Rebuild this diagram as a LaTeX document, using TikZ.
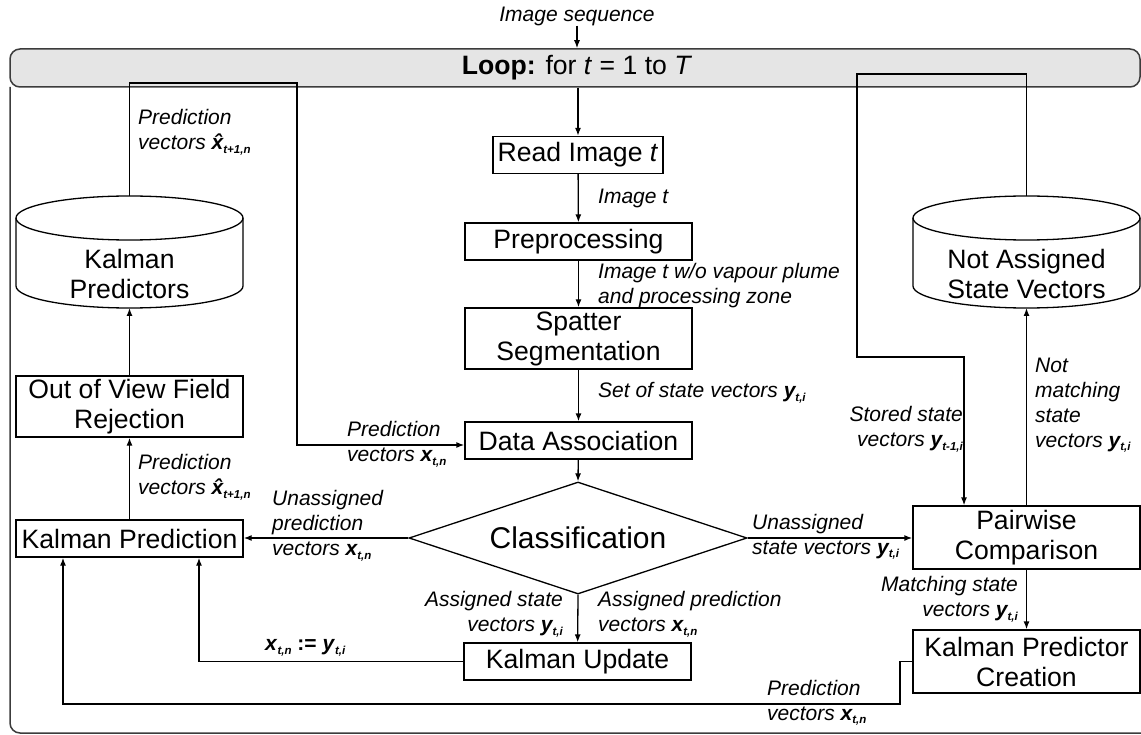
\documentclass[tikz,border=0pt]{standalone}
\usepackage{fontspec}
\setmainfont{Liberation Sans}
\usetikzlibrary{arrows.meta,calc,shapes.geometric}
\newcommand\mainfs{\fontsize{26.6}{30}\selectfont}
\newcommand\labfs{\fontsize{21}{25}\selectfont\itshape}
\newcommand\vx{\textbf{\textit{x}}}
\newcommand\vy{\textbf{\textit{y}}}
\newcommand\vxh{\textbf{\textit{\rlap{\kern2.5pt\char"02C6}x}}}
\newcommand\sub[1]{\raisebox{-3.5pt}{\fontsize{11.5}{12}\selectfont\bfseries\itshape #1}}
\definecolor{barfill}{RGB}{229,229,229}
\definecolor{bardraw}{RGB}{60,60,60}
\tikzset{
  ln/.style={line width=1.3pt},
  arr/.style={line width=1.3pt,-{Latex[length=8pt,width=6pt]}},
  box/.style={draw,line width=1.3pt,minimum width=227pt,inner sep=0pt,align=center,font=\mainfs},
  lab/.style={inner sep=0pt,font=\labfs},
}
\begin{document}
\begin{tikzpicture}[x=1pt,y=-1pt]
\useasboundingbox (0,0) rectangle (1141,735);
% loop bar and frame
\draw[bardraw,line width=1.5pt,rounded corners=10pt] (10,87) -- (10,733) -- (1150,733);
\node[draw=bardraw,fill=barfill,line width=1.5pt,rounded corners=10pt,minimum width=1130pt,minimum height=38pt,inner sep=0pt] (loop) at (575,68) {};
\node[inner sep=0pt,font=\fontsize{26.6}{30}\selectfont] (looptxt) at (577,68) {\textbf{Loop:} for \textit{t} = 1 to \textit{T}};
\node[lab] (seq) at (577,16) {Image sequence};
\draw[arr] (seq.south) -- (seq.south |- loop.north);

% centre column
\node[box,minimum width=170pt,minimum height=37pt] (read) at (578,155) {Read Image \textit{t}};
\node[box,minimum height=37pt] (prep) at (578.5,241.5) {Preprocessing};
\node[box,minimum height=61pt] (spat) at (578.5,338.5) {Spatter\\Segmentation};
\node[box,minimum height=37pt] (data) at (578.5,440.5) {Data Association};
\node[diamond,aspect=3,draw,line width=1.3pt,minimum width=338pt,minimum height=112pt,inner sep=0pt,font=\fontsize{30}{34}\selectfont] (cls) at (578,538) {Classification};
\node[box,minimum height=37pt] (kupd) at (577.5,661.5) {Kalman Update};

% left column
\node[box,minimum height=37pt] (kpred) at (129.5,538.5) {Kalman Prediction};
\node[box,minimum height=61pt] (ovf) at (129.5,406.5) {Out of View Field\\Rejection};
\draw[ln] (129.5,218) ellipse [x radius=113.5, y radius=22];
\draw[ln] (16,218) -- (16,286) arc[start angle=180,end angle=0,x radius=113.5,y radius=22] -- (243,218);
\node[inner sep=0pt,align=center,font=\mainfs] (kp) at (129.5,274) {Kalman\\Predictors};
\coordinate (kpt) at (129.5,196);
\coordinate (kpb) at (129.5,308);

% right column
\draw[ln] (1026.5,218) ellipse [x radius=113.5, y radius=22];
\draw[ln] (913,218) -- (913,286) arc[start angle=180,end angle=0,x radius=113.5,y radius=22] -- (1140,218);
\node[inner sep=0pt,align=center,font=\mainfs] (na) at (1026.5,274) {Not Assigned\\State Vectors};
\coordinate (nat) at (1026.5,196);
\coordinate (nab) at (1026.5,308);
\node[box,minimum height=63pt] (pair) at (1026.5,537.5) {Pairwise\\Comparison};
\node[box,minimum height=63pt] (kpc) at (1026.5,661.5) {Kalman Predictor\\Creation};

% centre connectors
\draw[arr] (loop.south -| read.north) -- (read.north);
\draw[arr] (read) -- (prep);
\draw[arr] (prep) -- (spat);
\draw[arr] (spat) -- (data);
\draw[arr] (data) -- (cls.north);
\draw[arr] (cls.south) -- (kupd);
\draw[arr] (cls.west) -- (kpred.east |- cls.west);
\draw[arr] (cls.east) -- (pair.west |- cls.east);

% left connectors
\draw[arr] (kpred) -- (ovf);
\draw[arr] (ovf.north) -- (kpb);
\coordinate (l1) at (129.5,83);
\coordinate (l2) at (297,83);
\coordinate (l3) at (297,445);
\draw[arr] (kpt) -- (l1) -- (l2) -- (l3) -- (l3 -| data.west);
\coordinate (xa) at (199,0);
\draw[arr] (kupd.west) -| (xa |- kpred.south);
\coordinate (b1) at (900,704);
\coordinate (b2) at (63,704);
\draw[arr] (kpc.west) -| (b1) -- (b2) -- (b2 |- kpred.south);

% right connectors
\coordinate (r1) at (1026.5,74);
\coordinate (r2) at (857,74);
\coordinate (r3) at (857,357);
\coordinate (r4) at (964,357);
\draw[arr] (nat) -- (r1) -- (r2) -- (r3) -- (r4) -- (r4 |- pair.north);
\draw[arr] (pair.north) -- (nab);
\draw[arr] (pair) -- (kpc);

% labels
\node[lab,anchor=west] (t1) at (598,198) {Image t};
\node[lab,anchor=west,align=left] (t2) at (598,285.5) {Image t w/o vapour plume\\and processing zone};
\node[lab,anchor=west] (t3) at (598,393) {Set of state vectors \vy\sub{t,i}};
\node[lab,anchor=west,align=left] (t4) at (347,444.5) {Prediction\\vectors \vx\sub{t,n}};
\node[lab,anchor=west,align=left] (t5) at (138,132.5) {Prediction\\vectors \vxh\sub{t+1,n}};
\node[lab,anchor=west,align=left] (t6) at (138,477.5) {Prediction\\vectors \vxh\sub{t+1,n}};
\node[lab,anchor=west,align=left] (t7) at (272,526) {Unassigned\\prediction\\vectors \vx\sub{t,n}};
\node[lab,anchor=west,align=left] (t8) at (752,537) {Unassigned\\state vectors \vy\sub{t,i}};
\node[lab,anchor=east,align=right] (t9) at (563,614.5) {Assigned state\\vectors \vy\sub{t,i}};
\node[lab,anchor=west,align=left] (t10) at (598,614.5) {Assigned prediction\\vectors \vx\sub{t,n}};
\node[lab,anchor=west,font=\fontsize{21}{25}\selectfont\bfseries] (t11) at (265,648) {\vx\sub{t,n} := \vy\sub{t,i}};
\node[lab,anchor=west,align=left] (t12) at (767,703) {Prediction\\vectors \vx\sub{t,n}};
\node[lab,anchor=east,align=right] (t13) at (963,429.5) {Stored state\\vectors \vy\sub{t-1,i}};
\node[lab,anchor=west,align=left] (t14) at (1035,405) {Not\\matching\\state\\vectors \vy\sub{t,i}};
\node[lab,anchor=east,align=right] (t15) at (1018,599.5) {Matching state\\vectors \vy\sub{t,i}};
\end{tikzpicture}
\end{document}
